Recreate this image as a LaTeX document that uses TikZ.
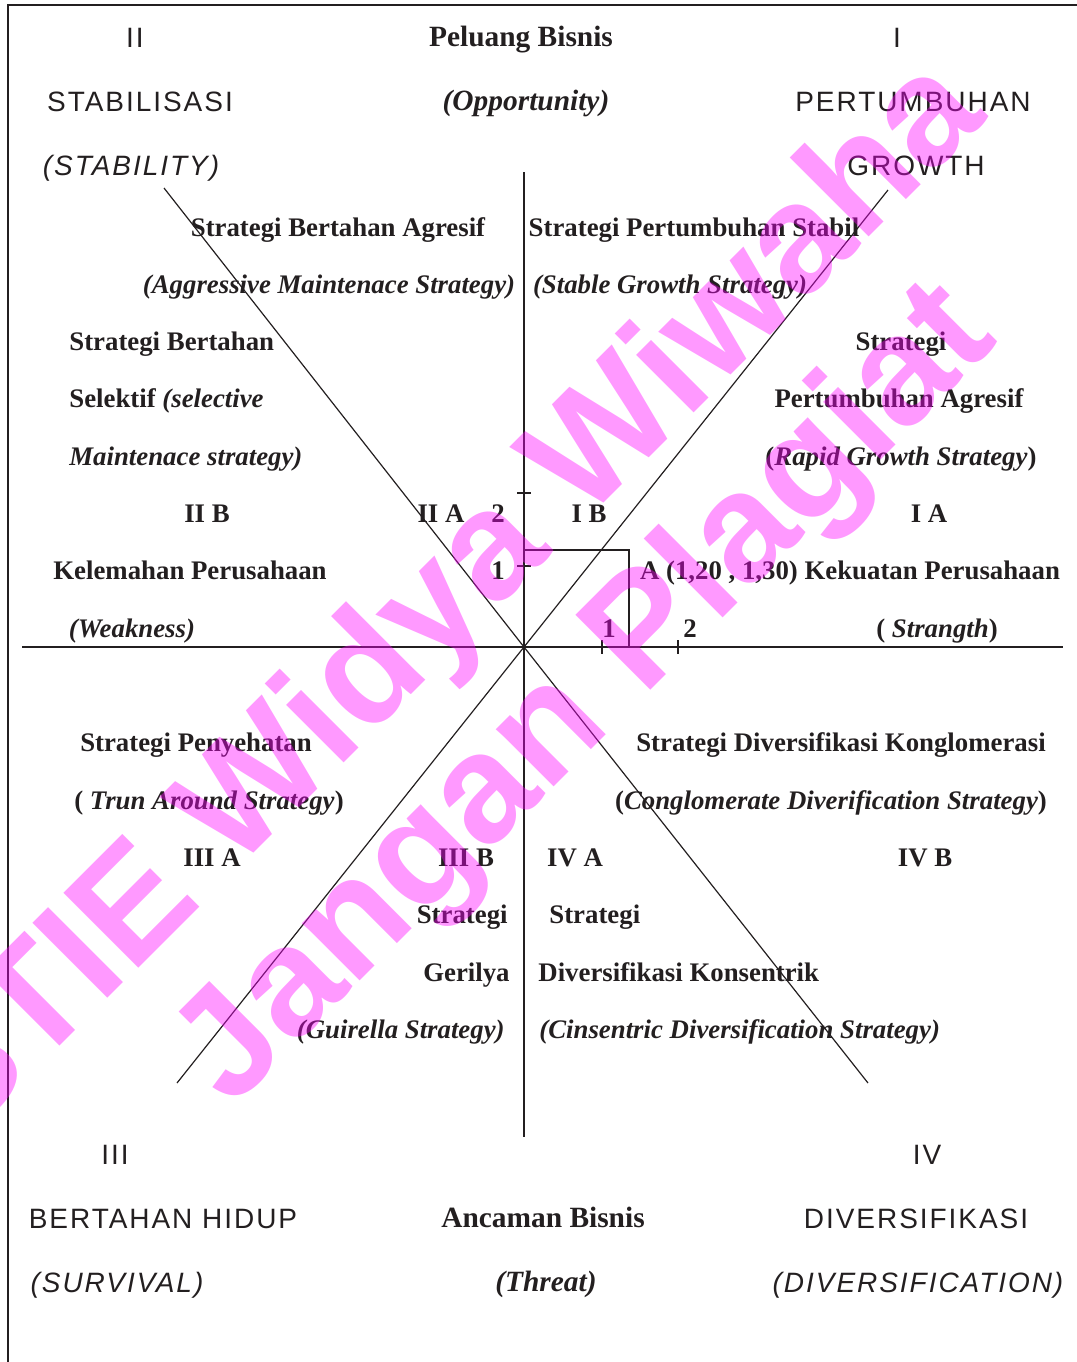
\documentclass[tikz,border=0pt]{standalone}
\usepackage{fontspec}
\setmainfont{Liberation Serif}
\setsansfont{Liberation Sans}
\newfontfamily\quadfont[LetterSpace=7]{Liberation Sans}
\usepackage{tikz}
\definecolor{ink}{HTML}{231F20}
\definecolor{wmpink}{RGB}{255,0,255}
\tikzset{
  lbl/.style={font=\fontsize{13.4}{16}\selectfont\bfseries, text=ink, inner sep=0pt, anchor=base},
  head/.style={lbl, font=\fontsize{14.7}{17}\selectfont\bfseries},
  quad/.style={font=\fontsize{14}{17}\selectfont\quadfont, text=ink, inner sep=0pt, anchor=base},
  wmark/.style={font=\fontsize{77}{84}\selectfont\sffamily\bfseries, text=wmpink, text opacity=0.4, rotate=45, inner sep=0pt},
  axis/.style={line width=0.75pt, draw=ink},
  diag/.style={line width=0.6pt, draw=ink}
}

\begin{document}
\begin{tikzpicture}[x=0.5pt,y=-0.5pt]
			%%%%% START %%%%%
			\useasboundingbox (0,0) rectangle (1077,1362);
			\draw[line width=1pt, color=ink] (8,1362) -- (8,5) -- (1077,5);
			
			% axes and the two diagonals
			\coordinate (O) at (524,647);
			\coordinate (top) at (524,172);
			\coordinate (bot) at (524,1137);
			\coordinate (lft) at (22,647);
			\coordinate (rgt) at (1063,647);
			\draw[axis] (top) -- (bot);
			\draw[axis] (lft) -- (rgt);
			\draw[diag] (164,188) -- (O) -- (868,1083);
			\draw[diag] (177,1083) -- (O) -- (888,190);
			
			\foreach \t in {566,493} \draw[axis] (517,\t) -- (531,\t);
			\foreach \t in {602,678} \draw[axis] (\t,640) -- (\t,654);
			\draw[axis] (524,550) -| (629,647);
			
			% quadrant names
			\node[quad] (q2) at (135,47) {II};
			\node[quad] (q1) at (897,47) {I};
			\node[quad] (q2n) at (140,111) {STABILISASI};
			\node[quad] (q1n) at (913,111) {PERTUMBUHAN};
			\node[quad] (q2e) at (131,175) {\itshape(STABILITY)};
			\node[quad] (q1e) at (916,175) {GROWTH};
			\node[quad] (q3) at (115,1164) {III};
			\node[quad] (q4) at (927,1164) {IV};
			\node[quad] (q3n) at (163,1228) {BERTAHAN HIDUP};
			\node[quad] (q4n) at (916,1228) {DIVERSIFIKASI};
			\node[quad] (q3e) at (117,1292) {\itshape(SURVIVAL)};
			\node[quad] (q4e) at (918,1292) {\itshape(DIVERSIFICATION)};
			
			\node[head] (opp) at (521,46) {Peluang Bisnis};
			\node[head] (oppe) at (526,110) {\itshape(Opportunity)};
			\node[head] (thr) at (543,1227) {Ancaman Bisnis};
			\node[head] (thre) at (546,1291) {\itshape(Threat)};
			
			% quadrant II and I
			\node[lbl] (baA) at (338,236) {Strategi Bertahan Agresif};
			\node[lbl] (baAe) at (329,293) {\itshape(Aggressive Maintenace Strategy)};
			\node[lbl] (psA) at (694,236) {Strategi Pertumbuhan Stabil};
			\node[lbl] (psAe) at (670,293) {\itshape(Stable Growth Strategy)};
			\node[lbl, anchor=base west] (bs1) at (69,350) {Strategi Bertahan};
			\node[lbl, anchor=base west] (bs2) at (69,407) {Selektif \itshape(selective};
			\node[lbl, anchor=base west] (bs3) at (69,465) {\itshape Maintenace strategy)};
			\node[lbl] (pa1) at (901,350) {Strategi};
			\node[lbl] (pa2) at (899,407) {Pertumbuhan Agresif};
			\node[lbl] (pa3) at (901,465) {(\textit{Rapid Growth Strategy})};
			
			\node[lbl] (iib) at (207,522) {II B};
			\node[lbl] (iia) at (441,522) {II A};
			\node[lbl] (y2) at (498,522) {2};
			\node[lbl] (ib) at (589,522) {I B};
			\node[lbl] (ia) at (929,522) {I A};
			
			\node[lbl] (weak) at (190,579) {Kelemahan Perusahaan};
			\node[lbl] (y1) at (498,579) {1};
			\node[lbl] (str) at (850,579) {A (1,20 , 1,30) Kekuatan Perusahaan};
			\node[lbl] (weake) at (132,637) {\itshape(Weakness)};
			\node[lbl] (x1) at (609,637) {1};
			\node[lbl] (x2) at (690,637) {2};
			\node[lbl] (stre) at (937,637) {( \textit{Strangth})};
			
			% quadrant III and IV
			\node[lbl] (pen) at (196,751) {Strategi Penyehatan};
			\node[lbl] (pene) at (209,809) {( \textit{Trun Around Strategy})};
			\node[lbl] (kon) at (841,751) {Strategi Diversifikasi Konglomerasi};
			\node[lbl] (kone) at (831,809) {(\textit{Conglomerate Diverification Strategy})};
			
			\node[lbl] (iiia) at (212,866) {III A};
			\node[lbl] (iiib) at (466,866) {III B};
			\node[lbl] (iva) at (575,866) {IV A};
			\node[lbl] (ivb) at (925,866) {IV B};
			
			\node[lbl, anchor=base east] (ger1) at (508,923) {Strategi};
			\node[lbl, anchor=base east] (ger2) at (510,981) {Gerilya};
			\node[lbl, anchor=base east] (ger3) at (505,1038) {\itshape(Guirella Strategy)};
			\node[lbl, anchor=base west] (ks1) at (549,923) {Strategi};
			\node[lbl, anchor=base west] (ks2) at (538,981) {Diversifikasi Konsentrik};
			\node[lbl, anchor=base west] (ks3) at (539,1038) {\itshape(Cinsentric Diversification Strategy)};
			
			% watermark
			\node[wmark] (wm1) at (447,603) {STIE Widya Wiwaha};
			\node[wmark] (wm2) at (588,697) {Jangan Plagiat};
			
			%%%%% END %%%%%
		\end{tikzpicture}
\end{document}
